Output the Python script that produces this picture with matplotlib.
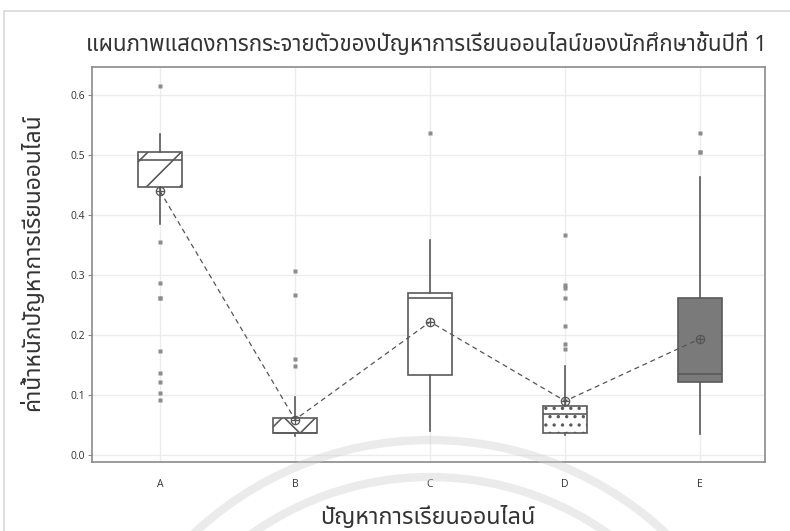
import numpy as np
import matplotlib
matplotlib.use("Agg")
import matplotlib.pyplot as plt
from matplotlib.patches import Rectangle, Arc


# values
groups = ["A", "B", "C", "D", "E"]
q1 = [0.447, 0.036, 0.134, 0.036, 0.122]
med = [0.492, 0.036, 0.261, 0.068, 0.135]
q3 = [0.505, 0.061, 0.270, 0.082, 0.261]
whislo = [0.385, 0.031, 0.040, 0.034, 0.035]
whishi = [0.535, 0.096, 0.358, 0.149, 0.464]
means = [0.440, 0.059, 0.222, 0.090, 0.194]
fliers = [
    [0.615, 0.355, 0.286, 0.261, 0.261, 0.173, 0.137, 0.121, 0.103, 0.091],
    [0.307, 0.266, 0.160, 0.148],
    [0.537],
    [0.367, 0.283, 0.278, 0.261, 0.215, 0.185, 0.176],
    [0.537, 0.505, 0.505],
]
hatches = ["/", "x", "", "..", ""]
fills = ["white", "white", "white", "white", "#7a7a7a"]

title = "แผนภาพแสดงการกระจายตัวของปัญหาการเรียนออนไลน์ของนักศึกษาชั้นปีที่ 1"
xlabel = "ปัญหาการเรียนออนไลน์"
ylabel = "ค่าน้ำหนักปัญหาการเรียนออนไลน์"

plt.rcParams["font.family"] = ["Noto Sans Thai", "DejaVu Sans"]
plt.rcParams["hatch.linewidth"] = 1.2

edge = "#5a5a5a"
W, H = 790, 531

fig = plt.figure(figsize=(7.9, 5.31), dpi=100)
fig.patches.append(Rectangle((4 / W, -0.1), 1.2, 1 - 11 / H + 0.1,
                             transform=fig.transFigure, fill=False,
                             edgecolor="#d8d8d8", linewidth=1.2))
ax = fig.add_axes([92 / W, 1 - 462 / H, 673 / W, 395 / H])

stats = []
for i, g in enumerate(groups):
    stats.append(dict(label=g, q1=q1[i], med=med[i], q3=q3[i],
                      whislo=whislo[i], whishi=whishi[i],
                      mean=means[i], fliers=fliers[i]))

pos = np.arange(len(groups))
bp = ax.bxp(stats, positions=pos, widths=0.33, patch_artist=True,
            showcaps=False, showmeans=False,
            boxprops=dict(edgecolor=edge, linewidth=1.2),
            medianprops=dict(color=edge, linewidth=1.2),
            whiskerprops=dict(color=edge, linewidth=1.2),
            flierprops=dict(marker="s", markersize=3, markerfacecolor="#8c8c8c",
                            markeredgecolor="none"))
for box, h, c in zip(bp["boxes"], hatches, fills):
    box.set_facecolor(c)
    box.set_hatch(h)

# mean connect line
ax.plot(pos, means, linestyle=(0, (4, 3)), color="#555555", linewidth=0.9,
        zorder=4)
ax.plot(pos, means, linestyle="none", marker="o", markersize=6,
        markerfacecolor="none", markeredgecolor="#555555", markeredgewidth=0.9,
        zorder=5)
ax.plot(pos, means, linestyle="none", marker="+", markersize=6,
        markeredgecolor="#555555", markeredgewidth=0.9, zorder=5)

ax.set_xlim(-0.504, 4.48)
ax.set_ylim(-0.0117, 0.647)
ax.set_yticks([0.0, 0.1, 0.2, 0.3, 0.4, 0.5, 0.6])
ax.set_xticks(pos)
ax.set_xticklabels(groups)
ax.grid(True, color="#ececec", linewidth=1.0)
ax.set_axisbelow(True)
for s in ax.spines.values():
    s.set_color("#8a8a8a")
    s.set_linewidth(1.2)
ax.tick_params(axis="y", length=3, color="#8a8a8a", labelsize=7.5,
               labelcolor="#333333", pad=2)
ax.tick_params(axis="x", length=0, labelsize=7.5, labelcolor="#333333", pad=12)
for t in ax.get_xticklabels() + ax.get_yticklabels():
    t.set_fontfamily(["Open Sans", "DejaVu Sans"])

fig.text(426 / W, 1 - 44 / H, title, ha="center", va="center",
         fontsize=16, color="#333333")
fig.text(428 / W, 1 - 518 / H, xlabel, ha="center", va="center",
         fontsize=16.8, color="#333333")
fig.text(33 / W, 1 - 262 / H, ylabel, ha="center", va="center",
         rotation=90, fontsize=16.4, color="#333333")

# faint watermark arcs near the bottom
for r in (345, 308):
    fig.add_artist(Arc((430 / W, -254 / H), 2 * r / W, 2 * r / H,
                       theta1=0, theta2=180, transform=fig.transFigure,
                       color="#cfcfcf", alpha=0.4, linewidth=6, zorder=10))

fig.savefig("out.png", dpi=100)
